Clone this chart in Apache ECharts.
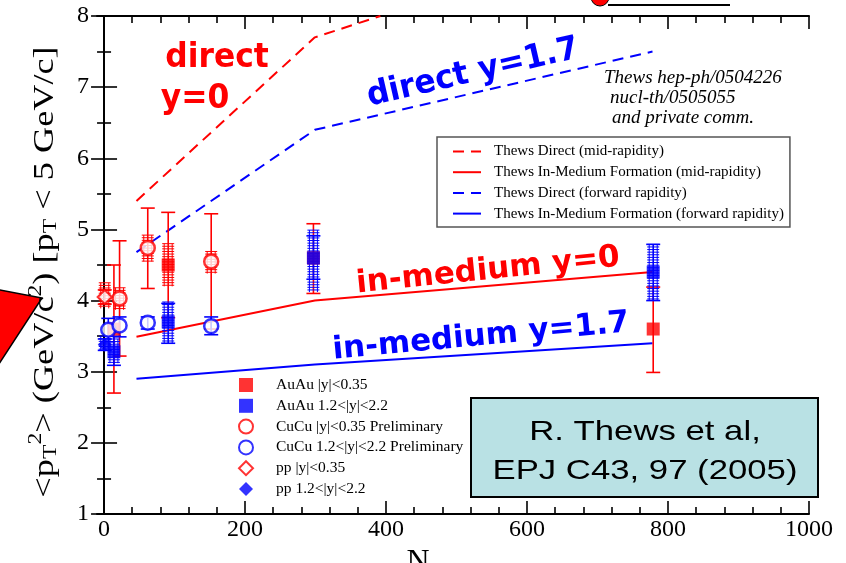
<!DOCTYPE html>
<html>
<head>
<meta charset="utf-8">
<script src="https://cdn.jsdelivr.net/npm/echarts@6/dist/echarts.min.js"></script>
<style>
  html, body { margin: 0; padding: 0; background: #fff; }
  #chart { width: 846px; height: 563px; }
</style>
</head>
<body>
<div id="chart"></div>
<script>
// Thews model curves: [N, <pT^2>]
const directMid = [[46, 5.4], [299, 7.7], [392, 8.0]];
const inMediumMid = [[46, 3.49], [299, 4.0], [778, 4.4]];
const directFwd = [[46, 4.68], [299, 6.4], [778, 7.5]];
const inMediumFwd = [[46, 2.9], [299, 3.1], [778, 3.4]];

// Measurements: [N, <pT^2>, stat low, stat high, syst low, syst high]  (syst 0,0 = none drawn)
const auauMid = [
  [14, 3.6, 2.7, 4.5, 0, 0],
  [91, 4.5, 3.76, 5.24, 4.2, 4.8],
  [297, 4.6, 4.1, 5.08, 0, 0],
  [779, 3.6, 2.99, 4.19, 0, 0]
];
const auauFwd = [
  [14, 3.28, 3.09, 3.5, 3.12, 3.46],
  [91, 3.7, 3.4, 3.96, 3.4, 3.98],
  [297, 4.6, 4.3, 4.91, 4.12, 4.99],
  [779, 4.4, 4.0, 4.79, 4.0, 4.79]
];
const cucuMid = [
  [22, 4.03, 3.22, 4.84, 3.87, 4.18],
  [62, 4.74, 4.17, 5.3, 4.55, 4.92],
  [152, 4.55, 3.6, 5.22, 4.38, 4.69]
];
const cucuFwd = [
  [6, 3.59, 3.42, 3.75, 0, 0],
  [22, 3.65, 3.49, 3.77, 0, 0],
  [62, 3.69, 3.6, 3.77, 0, 0],
  [152, 3.64, 3.52, 3.77, 0, 0]
];
const ppMid = [[1, 4.05, 3.95, 4.15, 3.89, 4.25]];
const ppFwd = [[1, 3.38, 3.3, 3.46, 3.3, 3.5]];

// Axis ticks
const xMajorTicks = [0, 200, 400, 600, 800, 1000];
const xMinorTicks = [40, 80, 120, 160, 240, 280, 320, 360, 440, 480, 520, 560,
                     640, 680, 720, 760, 840, 880, 920, 960];

const RED = '#ff0000';
const BLUE = '#0000ff';
const SERIF = '"Liberation Serif", "DejaVu Serif", serif';

// Error bar with caps, plus a ladder-hatched band for the systematic range
function errorBars(color) {
  return function (params, api) {
    const x = api.value(0);
    const hi = api.coord([x, api.value(3)]);
    const lo = api.coord([x, api.value(2)]);
    const sLo = api.value(4), sHi = api.value(5);
    const kids = [];
    const cap = 7;
    if (sHi > sLo) {
      const a = api.coord([x, sHi]);
      const b = api.coord([x, sLo]);
      for (let y = a[1]; y <= b[1] + 0.1; y += 2.6) {
        kids.push({ type: 'line', shape: { x1: a[0] - 6, y1: y, x2: a[0] + 6, y2: y },
                    style: { stroke: color, lineWidth: 1 } });
      }
      [-4, 4].forEach(function (dx) {
        kids.push({ type: 'line', shape: { x1: a[0] + dx, y1: a[1], x2: a[0] + dx, y2: b[1] },
                    style: { stroke: color, lineWidth: 1 } });
      });
    }
    kids.push({ type: 'line', shape: { x1: lo[0], y1: lo[1], x2: hi[0], y2: hi[1] },
                style: { stroke: color, lineWidth: 1.6 } });
    kids.push({ type: 'line', shape: { x1: hi[0] - cap, y1: hi[1], x2: hi[0] + cap, y2: hi[1] },
                style: { stroke: color, lineWidth: 1.6 } });
    kids.push({ type: 'line', shape: { x1: lo[0] - cap, y1: lo[1], x2: lo[0] + cap, y2: lo[1] },
                style: { stroke: color, lineWidth: 1.6 } });
    return { type: 'group', children: kids };
  };
}

function errSeries(id, data, color) {
  return {
    type: 'custom', name: id, data: data,
    encode: { x: 0, y: [2, 3] },
    renderItem: errorBars(color),
    xAxisIndex: 0, yAxisIndex: 0, silent: true
  };
}

function pointSeries(name, data, symbol, size, itemStyle) {
  return {
    type: 'scatter', name: name, data: data,
    encode: { x: 0, y: 1 },
    symbol: symbol, symbolSize: size,
    itemStyle: itemStyle,
    xAxisIndex: 0, yAxisIndex: 0
  };
}

function curve(name, data, color, dashed) {
  return {
    type: 'line', name: name, data: data,
    symbol: 'none', showSymbol: false,
    lineStyle: { color: color, width: 2, type: dashed ? [11, 7] : 'solid' },
    itemStyle: { color: color },
    xAxisIndex: 0, yAxisIndex: 0, z: 1
  };
}

const axisLineStyle = { color: '#000', width: 2 };
const tickLine = { color: '#000', width: 1.6 };

const chart = echarts.init(document.getElementById('chart'));
chart.setOption({
  animation: false,
  backgroundColor: '#fff',
  grid: [
    { left: 97, right: 37, top: 16, bottom: 49, outerBoundsMode: 'none', containLabel: false },
    { left: 97, right: 37, top: 16, bottom: 49, outerBoundsMode: 'none', containLabel: false }
  ],
  xAxis: [
    {
      type: 'value', gridIndex: 0, position: 'bottom', min: -10, max: 1000,
      name: 'N', nameLocation: 'middle', nameGap: 27,
      nameTextStyle: { fontFamily: SERIF, fontSize: 32, color: '#000', padding: [0, 70, 0, 0] },
      axisLine: { show: true, lineStyle: axisLineStyle },
      axisTick: { show: true, inside: true, length: 13, customValues: xMajorTicks, lineStyle: tickLine },
      axisLabel: { show: true, customValues: xMajorTicks, fontFamily: SERIF, fontSize: 24,
                   color: '#000', margin: 4, formatter: function (v) { return String(v); } },
      splitLine: { show: false }
    },
    {
      type: 'value', gridIndex: 0, position: 'top', min: -10, max: 1000,
      axisLine: { show: true, lineStyle: axisLineStyle },
      axisTick: { show: true, inside: true, length: 13, customValues: xMajorTicks, lineStyle: tickLine },
      axisLabel: { show: false },
      splitLine: { show: false }
    },
    {
      type: 'value', gridIndex: 1, position: 'bottom', min: -10, max: 1000,
      axisLine: { show: false },
      axisTick: { show: true, inside: true, length: 7, customValues: xMinorTicks, lineStyle: tickLine },
      axisLabel: { show: false },
      splitLine: { show: false }
    },
    {
      type: 'value', gridIndex: 1, position: 'top', min: -10, max: 1000,
      axisLine: { show: false },
      axisTick: { show: true, inside: true, length: 7, customValues: xMinorTicks, lineStyle: tickLine },
      axisLabel: { show: false },
      splitLine: { show: false }
    }
  ],
  yAxis: [
    {
      type: 'value', gridIndex: 0, position: 'left', min: 1, max: 8, interval: 1,
      axisLine: { show: true, lineStyle: axisLineStyle },
      axisTick: { show: true, inside: true, length: 13, lineStyle: tickLine },
      minorTick: { show: true, splitNumber: 2, length: 7, lineStyle: tickLine },
      axisLabel: { fontFamily: SERIF, fontSize: 24, color: '#000', margin: 8 },
      splitLine: { show: false }
    },
    {
      type: 'value', gridIndex: 0, position: 'right', min: 1, max: 8, interval: 1,
      axisLine: { show: true, lineStyle: axisLineStyle },
      axisTick: { show: true, inside: true, length: 13, lineStyle: tickLine },
      minorTick: { show: true, splitNumber: 2, length: 7, lineStyle: tickLine },
      axisLabel: { show: false },
      splitLine: { show: false }
    },
    {
      type: 'value', gridIndex: 1, min: 1, max: 8, show: false
    }
  ],
  legend: [
    {
      data: ['Thews Direct (mid-rapidity)', 'Thews In-Medium Formation (mid-rapidity)',
             'Thews Direct (forward rapidity)', 'Thews In-Medium Formation (forward rapidity)'],
      orient: 'vertical', left: 437, top: 137,
      padding: [7, 6, 6, 15], itemGap: 5.7, itemWidth: 28, itemHeight: 12,
      itemStyle: { opacity: 0 },
      borderColor: '#555', borderWidth: 1.5, backgroundColor: '#fff',
      textStyle: { fontFamily: SERIF, fontSize: 15, lineHeight: 15, color: '#000', padding: [0, 0, 0, 8] },
      selectedMode: false
    },
    {
      data: ['AuAu |y|<0.35', 'AuAu 1.2<|y|<2.2', 'CuCu |y|<0.35 Preliminary',
             'CuCu 1.2<|y|<2.2 Preliminary', 'pp |y|<0.35', 'pp 1.2<|y|<2.2'],
      orient: 'vertical', left: 238, top: 377,
      padding: 0, itemGap: 4.8, itemWidth: 14, itemHeight: 14,
      textStyle: { fontFamily: SERIF, fontSize: 15.5, lineHeight: 14, color: '#000', padding: [0, 0, 0, 18] },
      selectedMode: false
    }
  ],
  series: [
    curve('Thews Direct (mid-rapidity)', directMid, RED, true),
    curve('Thews In-Medium Formation (mid-rapidity)', inMediumMid, RED, false),
    curve('Thews Direct (forward rapidity)', directFwd, BLUE, true),
    curve('Thews In-Medium Formation (forward rapidity)', inMediumFwd, BLUE, false),

    errSeries('auauMid-err', auauMid, RED),
    errSeries('cucuMid-err', cucuMid, RED),
    errSeries('ppMid-err', ppMid, RED),
    pointSeries('AuAu |y|<0.35', auauMid, 'rect', 13, { color: RED }),
    pointSeries('CuCu |y|<0.35 Preliminary', cucuMid, 'circle', 14,
                { color: '#fff', borderColor: RED, borderWidth: 2.5 }),
    pointSeries('pp |y|<0.35', ppMid, 'diamond', 14,
                { color: '#fff', borderColor: RED, borderWidth: 2.2 }),

    errSeries('cucuFwd-err', cucuFwd, BLUE),
    errSeries('auauFwd-err', auauFwd, BLUE),
    errSeries('ppFwd-err', ppFwd, BLUE),
    pointSeries('AuAu 1.2<|y|<2.2', auauFwd, 'rect', 13, { color: BLUE }),
    pointSeries('CuCu 1.2<|y|<2.2 Preliminary', cucuFwd, 'circle', 14,
                { color: '#fff', borderColor: BLUE, borderWidth: 2.5 }),
    pointSeries('pp 1.2<|y|<2.2', ppFwd, 'diamond', 14, { color: BLUE })
  ],
  graphic: [
    // y axis title, reading bottom to top
    { type: 'text', z: 60, x: 45, y: 272, rotation: Math.PI / 2, scaleX: 1.25,
      style: {
        text: '{a|<p}{s|T}{u|2}{a|> (GeV/c}{u|2}{a|) [p}{s|T}{a| < 5 GeV/c]}',
        align: 'center', verticalAlign: 'middle',
        rich: {
          a: { fontFamily: SERIF, fontSize: 29, fill: '#000' },
          s: { fontFamily: SERIF, fontSize: 19, fill: '#000', padding: [13, 0, 0, 0] },
          u: { fontFamily: SERIF, fontSize: 19, fill: '#000', padding: [0, 0, 18, 0] }
        }
      } },

    // slide decorations around the plot
    { type: 'polygon', z: 50, shape: { points: [[-5, 289], [42, 298], [-5, 370]] },
      style: { fill: RED, stroke: '#000', lineWidth: 1.5 } },
    { type: 'circle', z: 50, shape: { cx: 600, cy: -3, r: 9 },
      style: { fill: RED, stroke: '#000', lineWidth: 1 } },
    { type: 'line', z: 50, shape: { x1: 608, y1: 5, x2: 730, y2: 5 },
      style: { stroke: '#000', lineWidth: 2.2 } },

    // hand-written curve labels
    { type: 'text', z: 60, x: 217, y: 58, scaleX: 0.95,
      style: { text: 'direct', fill: RED, font: 'bold 33px "DejaVu Sans"', align: 'center', verticalAlign: 'middle' } },
    { type: 'text', z: 60, x: 195, y: 99, scaleX: 0.95,
      style: { text: 'y=0', fill: RED, font: 'bold 33px "DejaVu Sans"', align: 'center', verticalAlign: 'middle' } },
    { type: 'text', z: 60, x: 473, y: 73, rotation: 13 * Math.PI / 180, scaleX: 0.95,
      style: { text: 'direct y=1.7', fill: BLUE, font: 'bold 33px "DejaVu Sans"', align: 'center', verticalAlign: 'middle' } },
    { type: 'text', z: 60, x: 488, y: 271, rotation: 5.8 * Math.PI / 180,
      style: { text: 'in-medium y=0', fill: RED, font: 'bold 31px "DejaVu Sans"', align: 'center', verticalAlign: 'middle' } },
    { type: 'text', z: 60, x: 481, y: 337, rotation: 5.3 * Math.PI / 180,
      style: { text: 'in-medium y=1.7', fill: BLUE, font: 'bold 31px "DejaVu Sans"', align: 'center', verticalAlign: 'middle' } },

    // model reference
    { type: 'text', z: 60, x: 604, y: 78,
      style: { text: 'Thews hep-ph/0504226', fill: '#000', font: 'italic 19px "Liberation Serif"', verticalAlign: 'middle' } },
    { type: 'text', z: 60, x: 610, y: 98,
      style: { text: 'nucl-th/0505055', fill: '#000', font: 'italic 19px "Liberation Serif"', verticalAlign: 'middle' } },
    { type: 'text', z: 60, x: 612, y: 118,
      style: { text: 'and private comm.', fill: '#000', font: 'italic 19px "Liberation Serif"', verticalAlign: 'middle' } },

    // citation box
    { type: 'rect', z: 100, shape: { x: 471, y: 398, width: 347, height: 99 },
      style: { fill: '#b9e1e4', stroke: '#000', lineWidth: 2 } },
    { type: 'text', z: 101, x: 645, y: 432, scaleX: 1.24,
      style: { text: 'R. Thews et al,', fill: '#000', font: '28px "Liberation Sans"', align: 'center', verticalAlign: 'middle' } },
    { type: 'text', z: 101, x: 645, y: 471, scaleX: 1.24,
      style: { text: 'EPJ C43, 97 (2005)', fill: '#000', font: '28px "Liberation Sans"', align: 'center', verticalAlign: 'middle' } }
  ]
});
</script>
</body>
</html>
